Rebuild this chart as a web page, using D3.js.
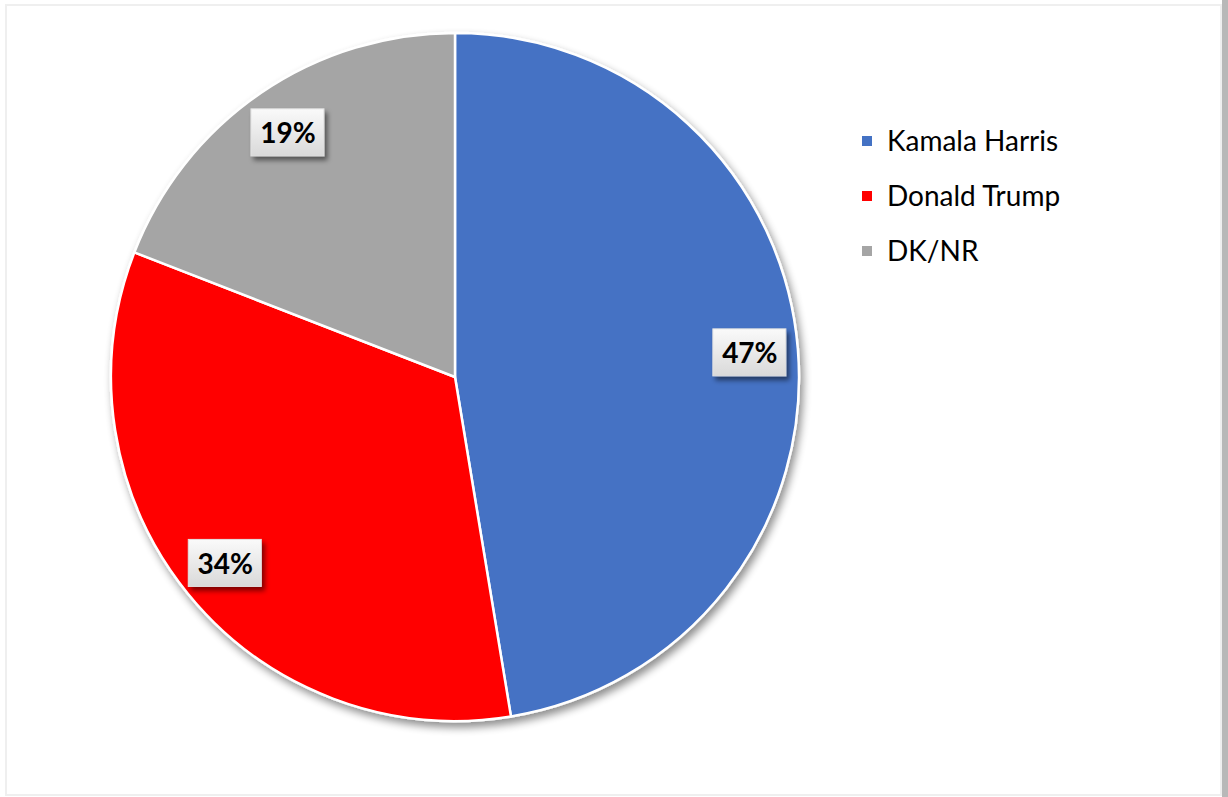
<!DOCTYPE html>
<html>
<head>
<meta charset="utf-8">
<title></title>
<style>
body { margin: 0; background: #fff; }
text { font-family: Lato, "Open Sans", sans-serif; }
</style>
</head>
<body>
<script src="https://cdn.jsdelivr.net/npm/d3@7"></script>
<script>

var names = ["Kamala Harris", "Donald Trump", "DK/NR"];
// shares; labels show them rounded
var values = [47.4, 33.5, 19.1];
var colors = ["#4472C4", "#FF0000", "#A5A5A5"];

var width = 1228,
    height = 797;

var cx = 455, cy = 377, radius = 344;

var svg = d3.select("body").append("svg")
    .attr("width", width)
    .attr("height", height);

var defs = svg.append("defs");

// pie shadow
var f = defs.append("filter").attr("id", "pieShadow")
    .attr("x", "-10%").attr("y", "-10%").attr("width", "120%").attr("height", "120%");
f.append("feGaussianBlur").attr("in", "SourceAlpha").attr("stdDeviation", 4);
f.append("feOffset").attr("dx", 3).attr("dy", 5).attr("result", "ob");
f.append("feComponentTransfer").append("feFuncA").attr("type", "linear").attr("slope", 0.45);
var m = f.append("feMerge");
m.append("feMergeNode");
m.append("feMergeNode").attr("in", "SourceGraphic");

// label shadow
var f2 = defs.append("filter").attr("id", "boxShadow")
    .attr("x", "-30%").attr("y", "-30%").attr("width", "160%").attr("height", "160%");
f2.append("feGaussianBlur").attr("in", "SourceAlpha").attr("stdDeviation", 2.5);
f2.append("feOffset").attr("dx", 3).attr("dy", 4);
f2.append("feComponentTransfer").append("feFuncA").attr("type", "linear").attr("slope", 0.5);
var m2 = f2.append("feMerge");
m2.append("feMergeNode");
m2.append("feMergeNode").attr("in", "SourceGraphic");

var grad = defs.append("linearGradient").attr("id", "boxGrad")
    .attr("x1", 0).attr("y1", 0).attr("x2", 0).attr("y2", 1);
grad.append("stop").attr("offset", "0%").attr("stop-color", "#fafafa");
grad.append("stop").attr("offset", "100%").attr("stop-color", "#d9d9d9");

// chart area border
svg.append("rect")
    .attr("x", 1222).attr("y", 0).attr("width", 6).attr("height", height)
    .attr("fill", "#b8b8b8");
svg.append("rect")
    .attr("x", 6).attr("y", 5).attr("width", 1215).attr("height", 790)
    .attr("fill", "#fff")
    .attr("stroke", "#efefef")
    .attr("stroke-width", 2);

var pie = d3.pie().sort(null).value(function(d) { return d; });
var arcs = pie(values);

var arc = d3.arc().innerRadius(0).outerRadius(radius);
var labelArc = d3.arc().innerRadius(radius * 0.86).outerRadius(radius * 0.86);

var g = svg.append("g").attr("transform", "translate(" + cx + "," + cy + ")");

g.append("g")
    .attr("filter", "url(#pieShadow)")
    .selectAll("path")
    .data(arcs)
    .enter().append("path")
    .attr("d", arc)
    .attr("fill", function(d, i) { return colors[i]; })
    .attr("stroke", "#fff")
    .attr("stroke-width", 2.5)
    .attr("stroke-linejoin", "round");

var lab = g.selectAll(".lab")
    .data(arcs)
    .enter().append("g")
    .attr("class", "lab")
    .attr("transform", function(d) {
        var c = labelArc.centroid(d);
        return "translate(" + c[0] + "," + c[1] + ")";
    });

lab.append("rect")
    .attr("x", -37).attr("y", -24)
    .attr("width", 73).attr("height", 47)
    .attr("fill", "url(#boxGrad)")
    .attr("stroke", "#e2e2e2")
    .attr("stroke-width", 1)
    .attr("filter", "url(#boxShadow)");

lab.append("text")
    .attr("text-anchor", "middle")
    .attr("dy", "0.36em")
    .attr("font-size", "28px")
    .attr("font-weight", "bold")
    .attr("fill", "#000")
    .text(function(d) { return Math.round(d.data) + "%"; });

// legend
var legend = svg.append("g").attr("transform", "translate(862,136)");
var item = legend.selectAll("g")
    .data(names)
    .enter().append("g")
    .attr("transform", function(d, i) { return "translate(0," + (i * 55) + ")"; });

item.append("rect")
    .attr("width", 10).attr("height", 10)
    .attr("fill", function(d, i) { return colors[i]; });

item.append("text")
    .attr("x", 25).attr("y", 5)
    .attr("dy", "0.36em")
    .attr("font-size", "28px")
    .attr("fill", "#000")
    .text(function(d) { return d; });

</script>
</body>
</html>
